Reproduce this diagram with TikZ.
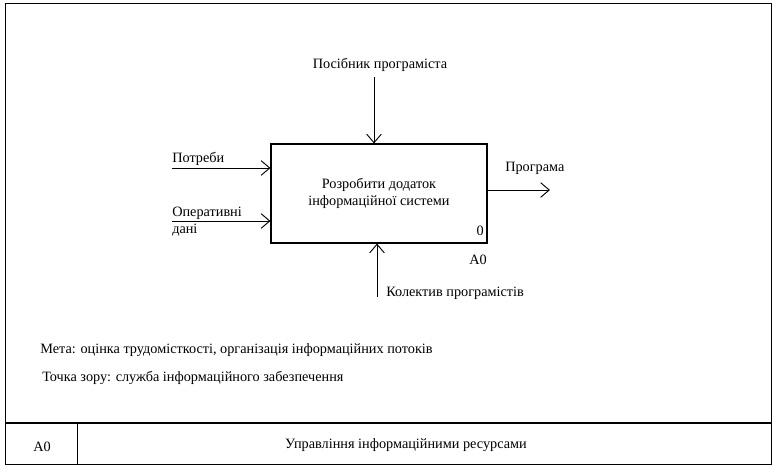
\documentclass[tikz,border=0pt]{standalone}
\usepackage{fontspec}
\setmainfont{Liberation Serif}
\usetikzlibrary{arrows.meta,positioning,calc}

\begin{document}
\begin{tikzpicture}[
  x=0.75pt, y=-0.75pt,
  font=\fontsize{10.7pt}{12.6pt}\selectfont,
  frame/.style={draw, line width=1.1pt},
  act/.style={draw, line width=0.8pt, minimum width=162pt, minimum height=74.25pt, align=center, inner sep=0pt},
  flow/.style={-{Straight Barb[length=6.5pt, width=11pt, line width=0.7pt]}, line width=0.7pt},
  lab/.style={inner sep=0pt, anchor=base west},
]
\useasboundingbox (0,0) rectangle (776,469);

% ---------- frame ----------
\draw[frame] (5.5,3.5) rectangle (771.5,464.5);
\coordinate (divL) at (5.5,423);
\coordinate (divR) at (771.5,423);
\coordinate (colT) at (77.5,423);
\coordinate (colB) at (77.5,464.5);
\draw[frame] (divL) -- (divR);
\draw[frame] (colT) -- (colB);

% ---------- activity ----------
\node[act] (A) at (379,193.5) {\raisebox{2pt}{\begin{tabular}{@{}c@{}}Розробити додаток\\інформаційної системи\end{tabular}}};
\node[lab, anchor=base east] (Anum) at (484,235) {0};
\node[lab, anchor=base east] (Aid) at (487,264) {A0};

% ---------- control (top) ----------
\node[lab, anchor=base] (ctrl) at (380,68) {Посібник програміста};
\coordinate (ctrl0) at (374,77);
\draw[flow] (ctrl0) -- (ctrl0 |- A.north);

% ---------- inputs ----------
\node[lab] (in1) at (172,162) {Потреби};
\coordinate (in1s) at (172,168);
\draw[flow] (in1s) -- (in1s -| A.west);

\node[lab, anchor=north west, align=left] (in2) at (172,207) {Оперативні\\дані};
\coordinate (in2s) at (172,221);
\draw[flow] (in2s) -- (in2s -| A.west);

% ---------- output ----------
\node[lab] (out) at (505,171) {Програма};
\coordinate (outE) at (550,190);
\draw[flow] (A.east |- outE) -- (outE);

% ---------- mechanism (bottom) ----------
\node[lab] (mech) at (386,296) {Колектив програмістів};
\coordinate (mech0) at (377,297);
\draw[flow] (mech0) -- (mech0 |- A.south);

% ---------- purpose / viewpoint ----------
\node[lab] (goal) at (40,353) {Мета: оцінка трудомісткості, організація інформаційних потоків};
\node[lab] (view) at (42,381) {Точка зору: служба інформаційного забезпечення};

% ---------- title block ----------
\node[lab, anchor=base] (node) at (42,451) {A0};
\node[lab, anchor=base] (title) at (406,448) {Управління інформаційними ресурсами};
\end{tikzpicture}
\end{document}
